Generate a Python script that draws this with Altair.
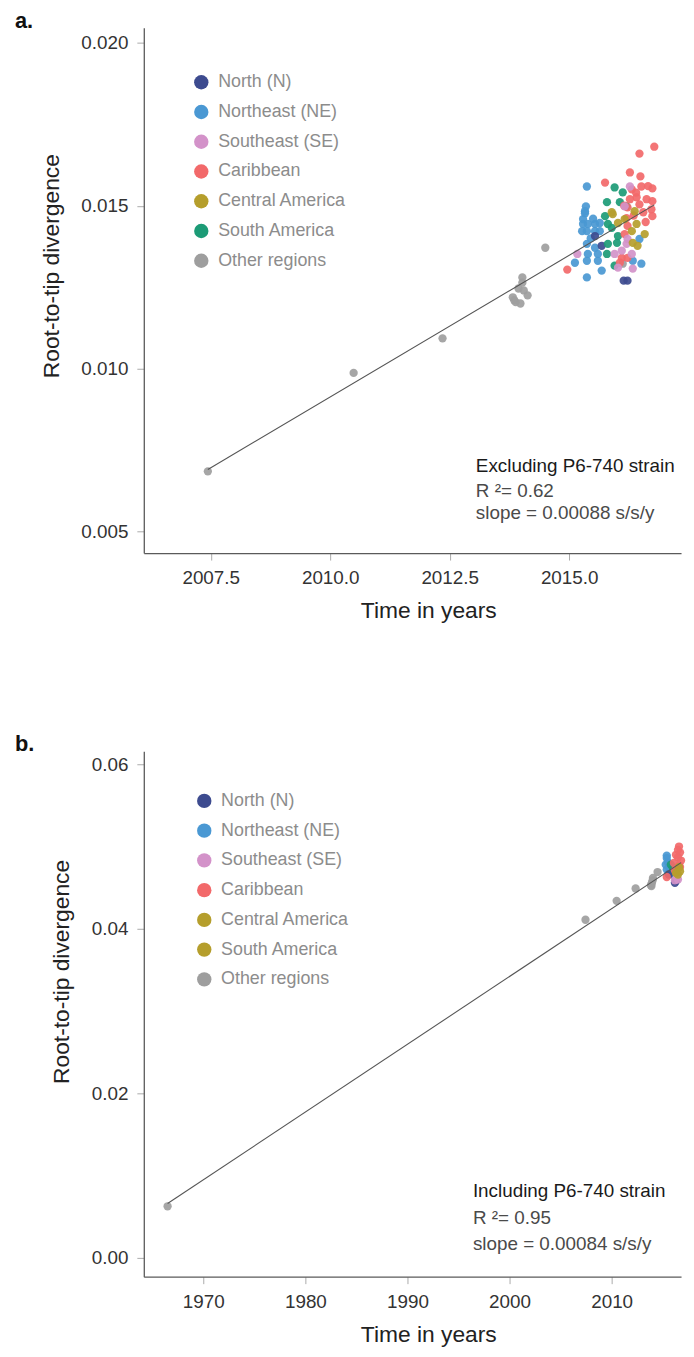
import altair as alt
import pandas as pd

FONT = "Liberation Sans"

regions = ["North (N)", "Northeast (NE)", "Southeast (SE)", "Caribbean",
           "Central America", "South America", "Other regions"]
colors = ["#3d4b8f", "#4a98d3", "#d392c9", "#f2696a", "#b59e2c", "#1c9b76", "#9e9e9e"]
# panel b legend in the figure shows South America with the olive swatch
legend_b_colors = ["#3d4b8f", "#4a98d3", "#d392c9", "#f2696a", "#b59e2c", "#b59e2c", "#9e9e9e"]

# ---------------- panel a (excluding P6-740) ----------------
a_other_t = [2007.44, 2010.49, 2012.35, 2013.82, 2013.85, 2013.88, 2013.94, 2013.98, 2014.02, 2014.02, 2014.05, 2014.13, 2014.50, 2016.12]
a_other_d = [0.00685, 0.00987, 0.01093, 0.01219, 0.01210, 0.01204, 0.01246, 0.01200, 0.01280, 0.01264, 0.01240, 0.01225, 0.01371, 0.01322]
a_ne_t = [2015.37, 2015.35, 2015.33, 2015.33, 2015.29, 2015.39, 2015.54, 2015.64, 2015.27, 2015.37, 2015.54, 2015.64, 2015.37, 2015.54,
          2015.39, 2015.60, 2015.37, 2015.60, 2015.12, 2015.68, 2015.37, 2016.51, 2016.33, 2016.47, 2015.29, 2015.45, 2015.50]
a_ne_d = [0.01559, 0.01498, 0.01483, 0.01477, 0.01444, 0.01444, 0.01444, 0.01447, 0.01422, 0.01422, 0.01422, 0.01422, 0.01383, 0.01371,
          0.01352, 0.01352, 0.01331, 0.01331, 0.01325, 0.01301, 0.01280, 0.01322, 0.01331, 0.01398, 0.01459, 0.01400, 0.01460]
a_n_t = [2015.54, 2015.68, 2016.14, 2016.22]
a_n_d = [0.01407, 0.01377, 0.01270, 0.01270]
a_sa_t = [2015.95, 2016.12, 2015.79, 2016.06, 2016.20, 2015.75, 2015.81, 2016.02, 2015.81, 2016.00, 2015.79, 2015.95, 2015.89]
a_sa_d = [0.01556, 0.01541, 0.01511, 0.01511, 0.01498, 0.01468, 0.01444, 0.01407, 0.01383, 0.01386, 0.01352, 0.01316, 0.01432]
a_car_t = [2016.78, 2016.47, 2016.27, 2016.49, 2015.75, 2016.74, 2016.31, 2016.51, 2016.41, 2016.27, 2016.62, 2016.74, 2016.47, 2016.22,
           2016.72, 2016.74, 2014.96, 2016.22, 2016.10, 2016.20, 2016.16, 2016.22, 2016.06, 2016.55, 2016.35, 2016.60, 2016.40, 2016.15, 2016.65]
a_car_d = [0.01681, 0.01660, 0.01602, 0.01590, 0.01571, 0.01553, 0.01550, 0.01559, 0.01526, 0.01520, 0.01520, 0.01514, 0.01504, 0.01495,
           0.01489, 0.01468, 0.01304, 0.01438, 0.01340, 0.01462, 0.01413, 0.01340, 0.01325, 0.01480, 0.01470, 0.01450, 0.01540, 0.01500, 0.01560]
a_se_t = [2016.27, 2016.16, 2015.17, 2015.95, 2016.20, 2016.31, 2016.10, 2016.33, 2016.02, 2016.22]
a_se_d = [0.01559, 0.01498, 0.01352, 0.01352, 0.01383, 0.01352, 0.01362, 0.01307, 0.01310, 0.01398]
a_ca_t = [2016.37, 2015.89, 2016.02, 2015.91, 2016.41, 2016.58, 2016.31, 2016.33, 2016.43, 2016.16]
a_ca_d = [0.01483, 0.01480, 0.01447, 0.01474, 0.01444, 0.01413, 0.01422, 0.01386, 0.01377, 0.01459]

# ---------------- panel b (including P6-740) ----------------
b_other_t = [1966.5, 2007.44, 2010.49, 2012.35, 2013.85, 2013.90, 2013.95, 2014.02, 2014.05, 2014.50]
b_other_d = [0.00627, 0.0411, 0.0434, 0.0449, 0.0453, 0.0452, 0.0456, 0.0459, 0.0462, 0.0469]
b_ne_t = [2015.4, 2015.5, 2015.4, 2015.9, 2016.2, 2015.3, 2015.6, 2015.4, 2015.6]
b_ne_d = [0.0489, 0.0481, 0.0472, 0.0471, 0.0463, 0.0478, 0.0468, 0.0486, 0.0475]
b_n_t = [2016.3, 2015.6, 2016.2]
b_n_d = [0.0458, 0.0466, 0.0456]
b_sa_t = [2015.8, 2016.3, 2016.0]
b_sa_d = [0.0478, 0.0471, 0.0474]
b_car_t = [2016.6, 2016.7, 2016.5, 2016.8, 2016.6, 2016.2, 2016.4, 2015.4, 2016.3, 2016.5, 2016.7, 2016.1]
b_car_d = [0.0500, 0.0493, 0.0487, 0.0483, 0.0477, 0.0471, 0.0466, 0.0463, 0.0490, 0.0496, 0.0475, 0.0480]
b_se_t = [2016.5, 2016.2, 2016.4]
b_se_d = [0.0460, 0.0459, 0.0462]
b_ca_t = [2016.6, 2016.5, 2016.7, 2016.3]
b_ca_d = [0.0475, 0.0466, 0.0470, 0.0468]

notes_a = ["Excluding P6-740 strain", "R \u00b2= 0.62", "slope = 0.00088 s/s/y"]
notes_b = ["Including P6-740 strain", "R \u00b2= 0.95", "slope = 0.00084 s/s/y"]


def frame(groups):
    rows = []
    for reg, ts, ds in groups:
        for t, d in zip(ts, ds):
            rows.append({"year": t, "div": d, "region": reg})
    return pd.DataFrame(rows)


df_a = frame([("Other regions", a_other_t, a_other_d), ("Northeast (NE)", a_ne_t, a_ne_d),
              ("North (N)", a_n_t, a_n_d), ("South America", a_sa_t, a_sa_d),
              ("Caribbean", a_car_t, a_car_d), ("Southeast (SE)", a_se_t, a_se_d),
              ("Central America", a_ca_t, a_ca_d)])
df_b = frame([("Other regions", b_other_t, b_other_d), ("Northeast (NE)", b_ne_t, b_ne_d),
              ("North (N)", b_n_t, b_n_d), ("South America", b_sa_t, b_sa_d),
              ("Caribbean", b_car_t, b_car_d), ("Southeast (SE)", b_se_t, b_se_d),
              ("Central America", b_ca_t, b_ca_d)])

W, H = 542, 530


def panel(df, xdom, xvals, xfmt, ydom, yvals, yfmt, ytitle_y, tag, notes, note_x, note_y,
          leg_colors, leg_x, leg_y):
    x = alt.X("year:Q", scale=alt.Scale(domain=xdom, nice=False, zero=False),
              axis=alt.Axis(values=xvals, format=xfmt, title="Time in years", titleX=287,
                            labelPadding=9, titlePadding=12))
    y = alt.Y("div:Q", scale=alt.Scale(domain=ydom, nice=False, zero=False),
              axis=alt.Axis(values=yvals, format=yfmt, title="Root-to-tip divergence",
                            titleY=ytitle_y, labelPadding=9, titlePadding=18))
    base = alt.Chart(df)
    pts = base.mark_circle(size=70, opacity=0.92).encode(
        x=x, y=y,
        color=alt.Color("region:N", scale=alt.Scale(domain=regions, range=colors), legend=None))
    line = base.transform_regression("year", "div").mark_line(color="#555555", strokeWidth=1.1).encode(
        x="year:Q", y="div:Q")
    data_layer = alt.layer(pts, line)

    leg_df = pd.DataFrame({"label": regions})
    ly = alt.Y("label:N", sort=regions, scale=alt.Scale(domain=regions, range=[leg_y, leg_y + 180], padding=0), axis=None)
    leg_pts = alt.Chart(leg_df).mark_circle(size=210, opacity=1).encode(
        x=alt.value(leg_x), y=ly,
        color=alt.Color("label:N", scale=alt.Scale(domain=regions, range=leg_colors), legend=None))
    leg_txt = alt.Chart(leg_df).mark_text(align="left", baseline="middle", font=FONT, fontSize=18,
                                          color="#8c8c8c").encode(
        x=alt.value(leg_x + 17), y=ly, text="label:N")
    leg_layer = alt.layer(leg_pts, leg_txt)

    tag_mark = alt.Chart(pd.DataFrame({"t": [tag]})).mark_text(
        align="left", baseline="alphabetic", font=FONT, fontSize=22, fontWeight="bold", color="#111111"
    ).encode(x=alt.value(-130), y=alt.value(0), text="t:N")

    note_layers = []
    for i, txt in enumerate(notes):
        note_layers.append(
            alt.Chart(pd.DataFrame({"t": [txt]})).mark_text(
                align="left", baseline="middle", font=FONT, fontSize=19,
                color="#1a1a1a" if i == 0 else "#4a4a4a"
            ).encode(x=alt.value(note_x), y=alt.value(note_y[i]), text="t:N"))

    return alt.layer(data_layer, leg_layer, tag_mark, *note_layers).resolve_scale(
        y="independent", color="independent").properties(width=W, height=H)


chart_a = panel(df_a, [2006.10, 2017.34], [2007.5, 2010.0, 2012.5, 2015.0], ".1f",
                [0.00434, 0.02046], [0.005, 0.010, 0.015, 0.020], ".3f", 240,
                "a.", notes_a, 335, [442, 467, 490], colors, 58, 55)
chart_b = panel(df_b, [1964.17, 2016.8], [1970, 1980, 1990, 2000, 2010], "d",
                [-0.00229, 0.06157], [0.00, 0.02, 0.04, 0.06], ".2f", 222,
                "b.", notes_b, 332, [444, 471, 497], legend_b_colors, 61, 50)

chart = alt.vconcat(chart_a, chart_b, spacing=112).properties(
    padding={"left": 7, "top": -4, "right": 0, "bottom": 0}
).configure_view(stroke=None).configure_axis(
    grid=False, domainColor="#5a5a5a", domainWidth=1.3, tickColor="#aaaaaa", tickSize=7,
    labelFont=FONT, labelFontSize=19, labelColor="#333333",
    titleFont=FONT, titleFontSize=23, titleFontWeight="normal", titleColor="#222222"
)

chart.save("out.html", embed_options={"renderer": "svg", "actions": False})
